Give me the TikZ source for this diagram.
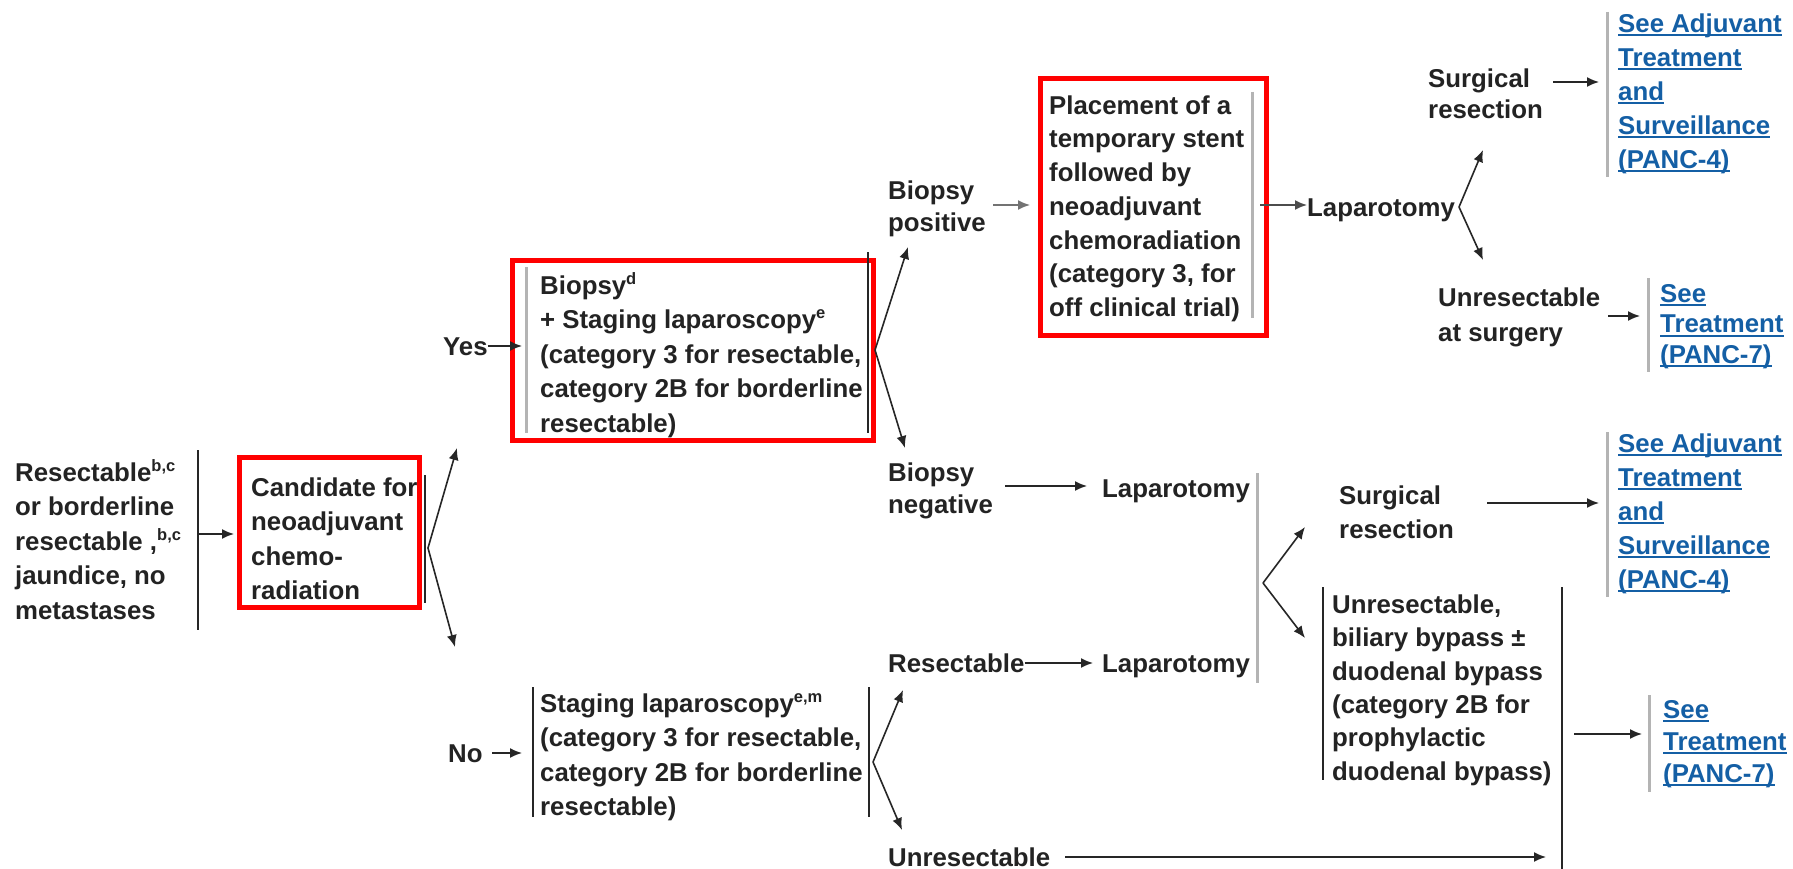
\documentclass[tikz,border=0pt]{standalone}
\usepackage{fontspec}
\setmainfont{Liberation Sans}
\usetikzlibrary{arrows.meta}
\definecolor{linkblue}{RGB}{20,95,165}
\definecolor{txtcol}{RGB}{35,35,35}
\definecolor{bargray}{RGB}{180,180,180}
\newcommand\sups[1]{\raisebox{10pt}{\fontsize{16.5}{16.5}\selectfont #1}}
\newcommand\lk[1]{\setbox0=\hbox{#1}\rlap{\color{linkblue}\rule[-4pt]{\wd0}{1.8pt}}\box0}
\newcommand\fs{\rule{0pt}{25pt}}
\begin{document}
\begin{tikzpicture}[x=1pt,y=-1pt,
  txt/.style={anchor=north west, inner sep=0pt, align=left, text=txtcol,
    font=\fontsize{25.8}{34.5}\selectfont\bfseries},
  link/.style={txt, text=linkblue},
  redbox/.style={draw=red, line width=5pt, inner sep=0pt, fill=none},
  bar/.style={draw=black!85, line width=2pt},
  gbar/.style={draw=bargray, line width=3pt},
  arr/.style={draw=black!85, line width=1.6pt, -{Latex[length=12pt,width=10pt]}},
]
\useasboundingbox[fill=white] (0,0) rectangle (1793,869);

% ---------------- text nodes ----------------
\node[txt] (res) at (15,456) {\fs Resectable\sups{b,c}\\or borderline\\resectable ,\sups{b,c}\\jaundice, no\\metastases};
\node[txt] (cand) at (251,471) {\fs Candidate for\\neoadjuvant\\chemo-\\radiation};
\node[txt] (yes) at (443,330) {\fs Yes};
\node[txt] (biop) at (540,269) {\fs Biopsy\sups{d}\\+ Staging laparoscopy\sups{e}\\(category 3 for resectable,\\category 2B for borderline\\resectable)};
\node[txt] (no) at (448,737) {\fs No};
\node[txt] (stag) at (540,687) {\fs Staging laparoscopy\sups{e,m}\\(category 3 for resectable,\\category 2B for borderline\\resectable)};
\node[txt, font=\fontsize{25.8}{32}\selectfont\bfseries] (bpos) at (888,174) {\fs Biopsy\\positive};
\node[txt, font=\fontsize{25.8}{33.7}\selectfont\bfseries] (stent) at (1049,89) {\fs Placement of a\\temporary stent\\followed by\\neoadjuvant\\chemoradiation\\(category 3, for\\off clinical trial)};
\node[txt] (lap1) at (1307,191) {\fs Laparotomy};
\node[txt, font=\fontsize{25.8}{31.5}\selectfont\bfseries] (surg1) at (1428,62) {\fs Surgical\\resection};
\node[link, font=\fontsize{25.8}{34}\selectfont\bfseries] (link1) at (1618,7) {\fs\lk{See Adjuvant}\\\lk{Treatment}\\\lk{and}\\\lk{Surveillance}\\\lk{(PANC-4)}};
\node[txt, font=\fontsize{25.8}{35}\selectfont\bfseries] (unres1) at (1438,281) {\fs Unresectable\\at surgery};
\node[link, font=\fontsize{25.8}{30.5}\selectfont\bfseries] (link2) at (1660,277) {\fs\lk{See}\\\lk{Treatment}\\\lk{(PANC-7)}};
\node[txt, font=\fontsize{25.8}{32}\selectfont\bfseries] (bneg) at (888,456) {\fs Biopsy\\negative};
\node[txt] (lap2) at (1102,472) {\fs Laparotomy};
\node[txt] (resect) at (888,647) {\fs Resectable};
\node[txt] (lap3) at (1102,647) {\fs Laparotomy};
\node[txt] (unres) at (888,841) {\fs Unresectable};
\node[txt, font=\fontsize{25.8}{34}\selectfont\bfseries] (surg2) at (1339,479) {\fs Surgical\\resection};
\node[link, font=\fontsize{25.8}{34}\selectfont\bfseries] (link3) at (1618,427) {\fs\lk{See Adjuvant}\\\lk{Treatment}\\\lk{and}\\\lk{Surveillance}\\\lk{(PANC-4)}};
\node[txt, font=\fontsize{25.8}{33.4}\selectfont\bfseries] (ubox) at (1332,588) {\fs Unresectable,\\biliary bypass ±\\duodenal bypass\\(category 2B for\\prophylactic\\duodenal bypass)};
\node[link, font=\fontsize{25.8}{32}\selectfont\bfseries] (link4) at (1663,693) {\fs\lk{See}\\\lk{Treatment}\\\lk{(PANC-7)}};

% ---------------- red boxes ----------------
\node[redbox, minimum width=180pt, minimum height=150pt] (rb1) at (329.2,532.5) {};
\node[redbox, minimum width=361pt, minimum height=179.6pt] (rb2) at (693,350.5) {};
\node[redbox, minimum width=226.7pt, minimum height=257.1pt] (rb3) at (1153.35,207.25) {};

% ---------------- bars ----------------
\draw[bar] (198,450) -- (198,630);
\draw[bar] (425,475) -- (425,603);
\draw[bar] (868,252) -- (868,433);
\draw[bar] (533,687) -- (533,817);
\draw[bar] (869,687) -- (869,817);
\draw[bar] (1323,587) -- (1323,780);
\draw[bar] (1562,587) -- (1562,869);
\draw[gbar] (526,267) -- (526,433);
\draw[gbar] (1252,92) -- (1252,318);
\draw[gbar] (1257,473) -- (1257,683);
\draw[gbar] (1607,12) -- (1607,177);
\draw[gbar] (1648,278) -- (1648,372);
\draw[gbar] (1607,432) -- (1607,597);
\draw[gbar] (1649,695) -- (1649,792);

% ---------------- fork vertices and tips ----------------
\coordinate (v1) at (428,548);
\coordinate (v2) at (875,350);
\coordinate (v3) at (873,762);
\coordinate (v4) at (1459,207);
\coordinate (v5) at (1263,583);

\draw[arr] (v1) -- (457,448);
\draw[arr] (v1) -- (455,647);
\draw[arr] (v2) -- (908,247);
\draw[arr] (v2) -- (905,448);
\draw[arr] (v3) -- (903,690);
\draw[arr] (v3) -- (902,830);
\draw[arr] (v4) -- (1483,150);
\draw[arr] (v4) -- (1483,260);
\draw[arr] (v5) -- (1305,527);
\draw[arr] (v5) -- (1305,638);

% ---------------- straight arrows ----------------
\coordinate (a1s) at (199,534);   \coordinate (a1e) at (234,534);
\draw[arr] (a1s) -- (a1e);
\draw[arr] (yes.east |- 0,346) -- (522,346);
\draw[arr] (492,753) -- (522,753);
\draw[arr, draw=black!55] (993,205) -- (1030,205);
\draw[arr, draw=black!70] (1260,205) -- (lap1.west |- 0,205);
\draw[arr] (1553,82) -- (1599,82);
\draw[arr] (1608,316) -- (1640,316);
\draw[arr] (1005,486) -- (1087,486);
\draw[arr] (resect.east |- 0,663) -- (1093,663);
\draw[arr] (1487,503) -- (1599,503);
\draw[arr] (1574,734) -- (1642,734);
\draw[arr] (1065,857) -- (1546,857);
\end{tikzpicture}
\end{document}
